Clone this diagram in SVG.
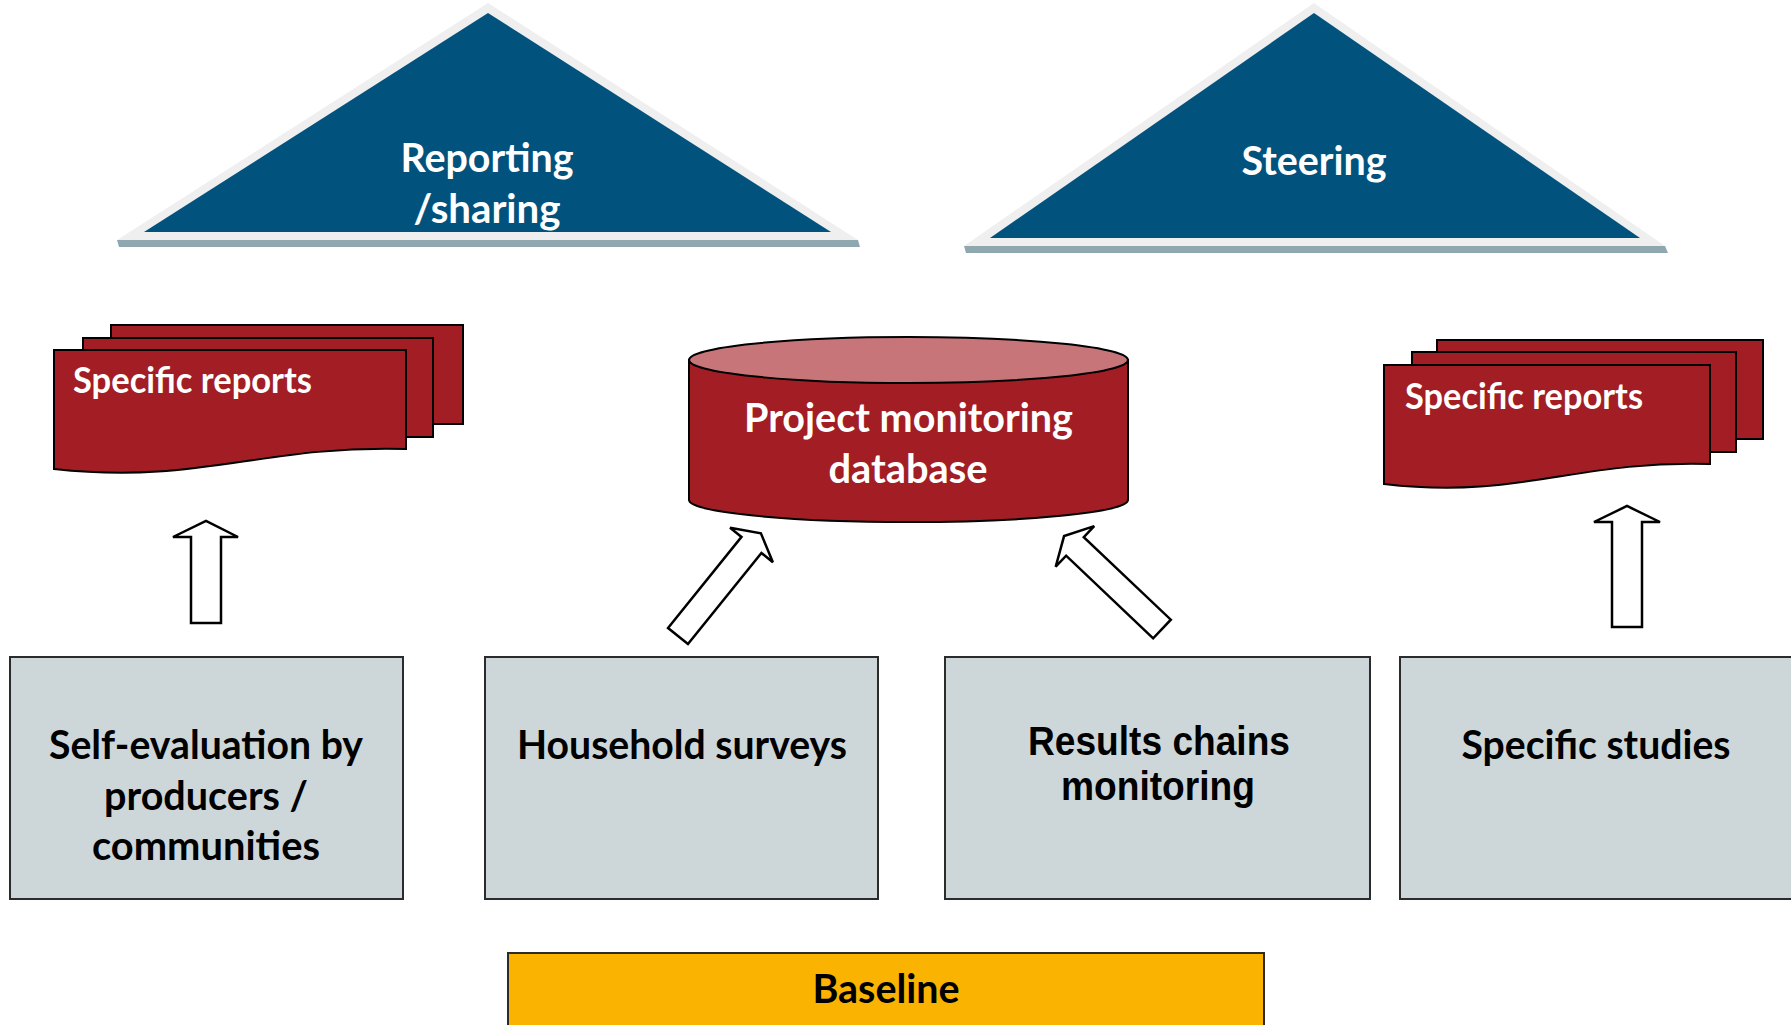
<svg xmlns="http://www.w3.org/2000/svg" width="1791" height="1025" viewBox="0 0 1791 1025">
  <style>
    .tri-bevel { fill: #EFEFEF; }
    .tri-face { fill: #02527E; }
    .tri-shadow { fill: #8FA8B0; }
    .sheet { fill: #A21D24; stroke: #000; stroke-width: 2; }
    .drum-top { fill: #C8757A; stroke: #000; stroke-width: 2; }
    .src { fill: #CDD7DA; stroke: #2B2B2B; stroke-width: 2; }
    .base { fill: #F9B300; stroke: #2B2B2B; stroke-width: 2; }
    .arrow { fill: #fff; stroke: #000; stroke-width: 2.5; stroke-linejoin: miter; }
    text { font-family: Lato, "Liberation Sans", sans-serif; font-weight: 700; text-anchor: middle; }
    .w { fill: #fff; }
    .k { fill: #000; }
    .narrow { font-family: "Liberation Sans Narrow", "Liberation Sans", sans-serif; }
  </style>

  <rect width="1791" height="1025" fill="#fff"/>

  <!-- Top level: reporting pyramid -->
  <g id="reporting">
    <polygon class="tri-shadow" points="117,240 858,240 860,247 119,247"/>
    <polygon class="tri-bevel" points="488,3 858,240 117,240"/>
    <polygon class="tri-face" points="488,13 831,232 144,232"/>
    <text class="w" x="487" y="172" font-size="41" textLength="173" lengthAdjust="spacingAndGlyphs">Reporting</text>
    <text class="w" x="487" y="223" font-size="41" textLength="147" lengthAdjust="spacingAndGlyphs">/sharing</text>
  </g>

  <!-- Top level: steering pyramid -->
  <g id="steering">
    <polygon class="tri-shadow" points="964,246 1665,246 1668,253 966,253"/>
    <polygon class="tri-bevel" points="1314,3 1665,246 964,246"/>
    <polygon class="tri-face" points="1314,13 1640,238 990,238"/>
    <text class="w" x="1314" y="175" font-size="41" textLength="145" lengthAdjust="spacingAndGlyphs">Steering</text>
  </g>

  <!-- Stacked report documents, left -->
  <g id="reports-left">
    <rect class="sheet" x="111" y="325" width="352" height="99"/>
    <rect class="sheet" x="83" y="338" width="350" height="99"/>
    <path class="sheet" d="M54,350 H406 V449 C260,445 200,485 54,469 Z"/>
    <text class="w" x="73" y="393" font-size="36" style="text-anchor:start" textLength="239" lengthAdjust="spacingAndGlyphs">Specific reports</text>
  </g>

  <!-- Central database cylinder -->
  <g id="database">
    <path class="sheet" d="M689,360 V500 A219.5,22 0 0 0 1128,500 V360 Z"/>
    <ellipse class="drum-top" cx="908.5" cy="360" rx="219.5" ry="23"/>
    <text class="w" x="908.5" y="432" font-size="40" textLength="329" lengthAdjust="spacingAndGlyphs">Project monitoring</text>
    <text class="w" x="908" y="483" font-size="40" textLength="159" lengthAdjust="spacingAndGlyphs">database</text>
  </g>

  <!-- Stacked report documents, right -->
  <g id="reports-right">
    <rect class="sheet" x="1437" y="340" width="326" height="99"/>
    <rect class="sheet" x="1412" y="352" width="324" height="100"/>
    <path class="sheet" d="M1384,365 H1710 V464 C1575,460 1519,500 1384,484 Z"/>
    <text class="w" x="1405" y="409" font-size="36" style="text-anchor:start" textLength="238" lengthAdjust="spacingAndGlyphs">Specific reports</text>
  </g>

  <!-- Block arrows from sources upwards -->
  <g id="connectors">
    <polygon class="arrow" points="191,623 191,537 173,537 206,521 238,537 221,537 221,623"/>
    <polygon class="arrow" transform="translate(678,636) rotate(38.9)" points="-12.8,0 -12.8,-117 -27.5,-117 0,-132 27.5,-117 12.8,-117 12.8,0"/>
    <polygon class="arrow" transform="translate(1162,629) rotate(-46.5)" points="-12.8,0 -12.8,-120 -28,-120 0,-135 28,-120 12.8,-120 12.8,0"/>
    <polygon class="arrow" points="1612,627 1612,522 1594,522 1627,506 1660,522 1642,522 1642,627"/>
  </g>

  <!-- Data sources -->
  <g id="self-evaluation">
    <rect class="src" x="10" y="657" width="393" height="242"/>
    <text class="k" x="206" y="759" font-size="41" textLength="314" lengthAdjust="spacingAndGlyphs">Self-evaluation by</text>
    <text class="k" x="206" y="810" font-size="41" textLength="204" lengthAdjust="spacingAndGlyphs">producers /</text>
    <text class="k" x="206" y="860" font-size="41" textLength="228" lengthAdjust="spacingAndGlyphs">communities</text>
  </g>

  <g id="household-surveys">
    <rect class="src" x="485" y="657" width="393" height="242"/>
    <text class="k" x="682" y="759" font-size="41" textLength="330" lengthAdjust="spacingAndGlyphs">Household surveys</text>
  </g>

  <g id="results-chains">
    <rect class="src" x="945" y="657" width="425" height="242"/>
    <text class="k narrow" x="1159" y="755" font-size="41" textLength="262" lengthAdjust="spacingAndGlyphs">Results chains</text>
    <text class="k narrow" x="1158" y="800" font-size="41" textLength="194" lengthAdjust="spacingAndGlyphs">monitoring</text>
  </g>

  <g id="specific-studies">
    <rect class="src" x="1400" y="657" width="420" height="242"/>
    <text class="k" x="1596" y="759" font-size="41" textLength="269" lengthAdjust="spacingAndGlyphs">Specific studies</text>
  </g>

  <!-- Baseline bar -->
  <g id="baseline">
    <rect class="base" x="508" y="953" width="756" height="90"/>
    <text class="k" x="886" y="1003" font-size="41" textLength="147" lengthAdjust="spacingAndGlyphs">Baseline</text>
  </g>
</svg>
